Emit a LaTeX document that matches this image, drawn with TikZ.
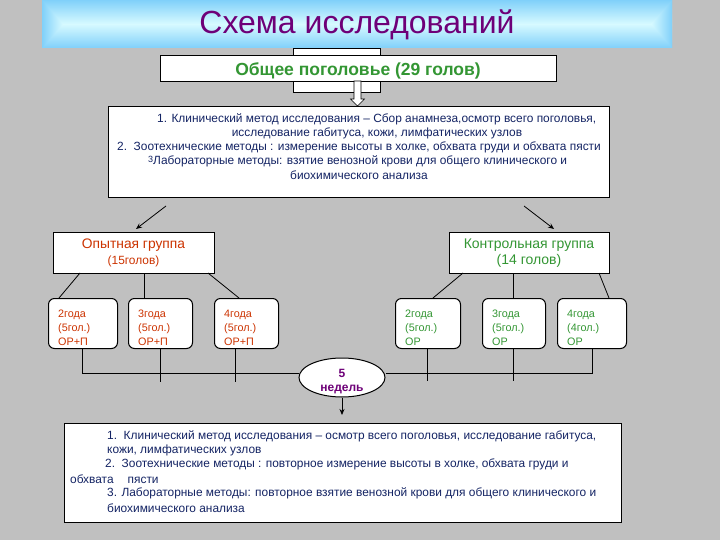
\documentclass[tikz,border=0pt]{standalone}
\usepackage{fontspec}
\usepackage{graphicx}
\setmainfont{Liberation Sans}
\usetikzlibrary{arrows.meta,shapes.geometric}
\definecolor{bg}{RGB}{192,192,192}
\definecolor{navy}{RGB}{20,36,100}
\definecolor{redor}{RGB}{204,51,0}
\definecolor{grn}{RGB}{51,150,51}
\definecolor{purp}{RGB}{110,0,120}
\definecolor{bannerA}{RGB}{128,208,250}
\definecolor{bannerB}{RGB}{215,250,255}
\begin{document}
\begin{tikzpicture}[x=1pt,y=-1pt,
  box/.style={draw=black, line width=1pt, fill=white, inner sep=0pt, anchor=north west},
  subbox/.style={box, rounded corners=6pt, minimum width=66pt, minimum height=50pt},
  ln/.style={draw=black, line width=0.8pt},
  arr/.style={ln, -{Stealth[length=6pt,width=5pt]}},
  mtxt/.style={font=\fontsize{11.9}{13}\selectfont, text=navy, inner sep=0pt},
  grptxt/.style={font=\fontsize{14}{15}\selectfont, inner sep=0pt},
  subtxt/.style={font=\fontsize{10.8}{14}\selectfont, inner sep=0pt, align=left, anchor=north west},
  wktxt/.style={font=\bfseries\fontsize{12}{13}\selectfont, text=purp, inner sep=0pt}]
\useasboundingbox (0,0) rectangle (720,540);
\fill[bg] (0,0) rectangle (720,540);
% banner
\shade[top color=bannerA, bottom color=bannerA, middle color=bannerB] (42,0) rectangle (672,48);
\shade[left color=bannerA, right color=bannerB] (42,0) -- (63,24) -- (42,48) -- cycle;
\shade[left color=bannerB, right color=bannerA] (672,0) -- (651,24) -- (672,48) -- cycle;
\node[font=\fontsize{32}{34}\selectfont, text=purp, inner sep=0pt] (title) at (357,25) {Схема исследований};
% general herd
\node[box, minimum width=87pt, minimum height=44pt] (back) at (293,48) {};
\node[box, minimum width=396pt, minimum height=26pt] (herd) at (160,55) {};
\node[font=\bfseries\fontsize{17.5}{18}\selectfont, text=grn, inner sep=0pt] (herdt) at (358,71) {Общее поголовье (29 голов)};
% methods box
\node[box, minimum width=501pt, minimum height=91pt] (meth) at (108,106) {};
\draw[fill=white, line width=0.6pt] (354,81) -- (361,81) -- (361,99) -- (364.5,99) -- (357.5,106) -- (350.5,99) -- (354,99) -- cycle;
\node[mtxt, anchor=west] (m1) at (157,119) {1. Клинический метод исследования – Сбор анамнеза,осмотр всего поголовья,};
\node[mtxt] (m2) at (377,133) {исследование габитуса, кожи, лимфатических узлов};
\node[mtxt, anchor=west] (m3) at (117,147) {2.\ \ Зоотехнические методы : измерение высоты в холке, обхвата груди и обхвата пясти};
\node[mtxt, anchor=west] (m4) at (148,161) {\raisebox{1.5pt}{\fontsize{9}{9}\selectfont 3}Лабораторные методы: взятие венозной крови для общего клинического и};
\node[mtxt] (m5) at (359,175) {биохимического анализа};
% group boxes
\node[box, minimum width=161pt, minimum height=41pt] (exp) at (53,232) {};
\node[grptxt, font=\fontsize{13.8}{15}\selectfont, text=redor] (expt) at (133.5,245) {Опытная группа};
\node[font=\fontsize{11.9}{12}\selectfont, text=redor, inner sep=0pt] (expn) at (133.5,261) {(15голов)};
\node[box, minimum width=160pt, minimum height=41pt] (ctl) at (449,232) {};
\node[grptxt, text=grn] (ctlt) at (529,245) {Контрольная группа};
\node[grptxt, text=grn] (ctln) at (529,261) {(14 голов)};
\coordinate (aL) at (166,206);
\coordinate (aLe) at (136,229);
\coordinate (aR) at (524,206);
\coordinate (aRe) at (554,229);
\draw[arr] (aL) -- (aLe);
\draw[arr] (aR) -- (aRe);
% sub boxes
\node[subbox, minimum width=69pt] (e1) at (48,298) {};
\node[subbox, minimum width=64pt] (e2) at (128,298) {};
\node[subbox, minimum width=64pt] (e3) at (214,298) {};
\node[subbox, minimum width=65pt] (c1) at (395,298) {};
\node[subbox, minimum width=63pt] (c2) at (482,298) {};
\node[subbox, minimum width=69pt] (c3) at (557,298) {};
\node[subtxt, text=redor] (e1t) at (58,307.5) {\strut 2года\\\strut (5гол.)\\\strut ОР+П};
\node[subtxt, text=redor] (e2t) at (138,307.5) {\strut 3года\\\strut (5гол.)\\\strut ОР+П};
\node[subtxt, text=redor] (e3t) at (224,307.5) {\strut 4года\\\strut (5гол.)\\\strut ОР+П};
\node[subtxt, text=grn] (c1t) at (405,307.5) {\strut 2года\\\strut (5гол.)\\\strut ОР};
\node[subtxt, text=grn] (c2t) at (492,307.5) {\strut 3года\\\strut (5гол.)\\\strut ОР};
\node[subtxt, text=grn] (c3t) at (567,307.5) {\strut 4года\\\strut (4гол.)\\\strut ОР};
% group to sub connectors
\draw[ln] (80,273) -- (59,298);
\draw[ln] (144,273) -- (144,298);
\draw[ln] (208,273) -- (239,298);
\draw[ln] (463,273) -- (433,298);
\draw[ln] (513,273) -- (513,298);
\draw[ln] (599,273) -- (609,298);
% ellipse
\node[ellipse, draw=black, line width=1pt, fill=white, minimum width=86pt, minimum height=39pt, inner sep=0pt] (wk) at (342,377.5) {};
\node[wktxt] (wk5) at (342,373) {5};
\node[wktxt] (wkt) at (342,389) {недель};
% bottom lines
\draw[ln] (82.5,348) -- (82.5,373) -- (wk.west |- 0,373);
\draw[ln] (wk.east |- 0,373) -- (592,373) -- (592,348);
\draw[ln] (160,348) -- (160,382);
\draw[ln] (235,348) -- (235,382);
\draw[ln] (427,348) -- (427,381);
\draw[ln] (513,348) -- (513,381);
\coordinate (wkend) at (342,415);
\draw[arr] (wk.south) -- (wkend);
% bottom box
\node[box, minimum width=557pt, minimum height=99pt] (res) at (64,423) {};
\node[mtxt, anchor=west] (r1) at (107,436) {1.\ \ Клинический метод исследования – осмотр всего поголовья, исследование габитуса,};
\node[mtxt, anchor=west] (r2) at (107,450) {кожи, лимфатических узлов};
\node[mtxt, anchor=west] (r3) at (105,464) {2.\ \ Зоотехнические методы : повторное измерение высоты в холке, обхвата груди и};
\node[mtxt, anchor=west] (r4) at (70,479) {обхвата\hspace{14pt}пясти};
\node[mtxt, anchor=west] (r5) at (107,493) {3. Лабораторные методы: повторное взятие венозной крови для общего клинического и};
\node[mtxt, anchor=west] (r6) at (107,508) {биохимического анализа};
\end{tikzpicture}
\end{document}
